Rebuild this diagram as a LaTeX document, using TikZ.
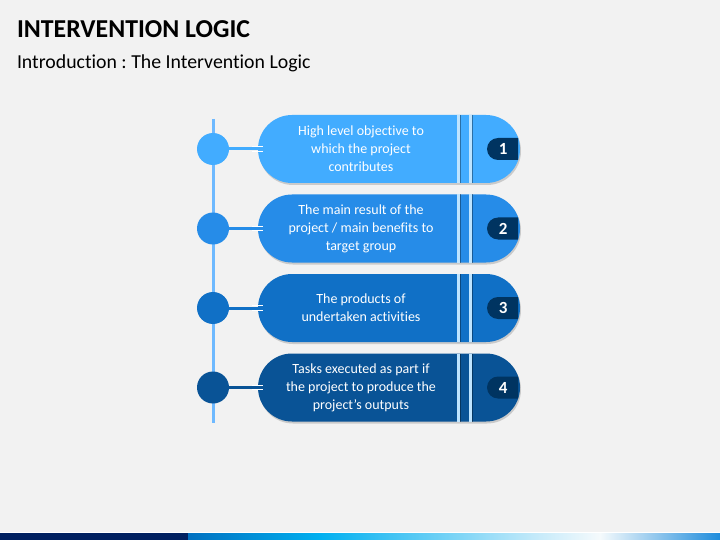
\documentclass[tikz,border=0pt]{standalone}
\usepackage{fontspec}
\setmainfont{Carlito}[Ligatures=NoCommon]
\usetikzlibrary{shapes.misc,shadows,calc}
\frenchspacing

\definecolor{cf2f2f2}{RGB}{242,242,242}
\definecolor{c42acff}{RGB}{66,172,255}
\definecolor{c268ce8}{RGB}{38,140,232}
\definecolor{c1070c6}{RGB}{16,112,198}
\definecolor{c095396}{RGB}{9,83,150}
\definecolor{c003461}{RGB}{0,52,97}
\definecolor{cbee4ff}{RGB}{190,228,255}
\definecolor{c6eb9ff}{RGB}{110,185,255}
\definecolor{c002060}{RGB}{0,32,96}
\definecolor{c0070c0}{RGB}{0,112,192}
\definecolor{c00b0f0}{RGB}{0,176,240}
\definecolor{cc8ebfa}{RGB}{200,235,250}
\definecolor{cf5fafc}{RGB}{245,250,252}
\definecolor{c1e8cdc}{RGB}{30,140,220}

\tikzset{
  pill/.style={rounded rectangle, minimum width=262pt, minimum height=68pt,
    drop shadow={opacity=0.35, shadow xshift=1pt, shadow yshift=-2pt}},
  pilltext/.style={text=white, align=center,
    font=\fontsize{14}{18}\selectfont},
  dot/.style={circle, minimum size=32pt},
  badge/.style={rounded rectangle, rounded rectangle right arc=none,
    minimum width=31pt, minimum height=22pt, fill=c003461, text=white,
    font=\fontsize{17}{17}\selectfont\bfseries},
  stripe/.style={draw=cbee4ff, line width=2.6pt}
}

\begin{document}
\begin{tikzpicture}[y=1pt, x=1pt, yscale=-1, inner sep=0pt, outer sep=0pt]
  \path[fill=cf2f2f2] (0,0) rectangle (720,540);
  \useasboundingbox (0,0) rectangle (720,540);

  % heading
  \path (17,38) node[anchor=base west, font=\fontsize{25.8}{25.8}\selectfont\bfseries]
    (title) {INTERVENTION LOGIC};
  \path (17,69) node[anchor=base west, font=\fontsize{19.8}{19.8}\selectfont]
    (subtitle) {Introduction : The Intervention Logic};

  % spine
  \coordinate (spinetop) at (213,119);
  \coordinate (spinebot) at (213,423);
  \path[draw=c6eb9ff, line width=3pt] (spinetop) -- (spinebot);

  \foreach \i/\col/\txt in {
      1/c42acff/{High level objective to\\which the project\\contributes},
      2/c268ce8/{The main result of the\\project / main benefits to\\target group},
      3/c1070c6/{The products of\\undertaken activities},
      4/c095396/{Tasks executed as part if\\the project to produce the\\project’s outputs}}{
    \pgfmathsetmacro{\yc}{149+79.5*(\i-1)}
    \path (389,\yc) node[pill, fill=\col] (pill\i) {};
    \begin{scope}
      \clip (258,\yc-34) rectangle (520,\yc+34);
      \path[draw=black, opacity=0.35, line width=1.6pt] (460.5,\yc-34) -- (460.5,\yc+34);
      \path[draw=black, opacity=0.35, line width=1.6pt] (472.5,\yc-34) -- (472.5,\yc+34);
      \path[stripe] (458.5,\yc-34) -- (458.5,\yc+34);
      \path[stripe] (470.5,\yc-34) -- (470.5,\yc+34);
    \end{scope}
    \path (361,\yc) node[pilltext] (text\i) {\txt};
    \path (518,\yc) node[badge, anchor=east] (badge\i) {\i};
    \path (213,\yc) node[dot, fill=\col] (dot\i) {};
    \path[draw=\col, line width=3pt] (dot\i) -- (pill\i);
    \path[draw=white, line width=0.7pt] (252,\yc-2.2) -- (263,\yc-2.2)
      (252,\yc+2.2) -- (263,\yc+2.2);
  }

  % footer band
  \path[fill=white] (0,531.5) rectangle (720,533);
  \path[fill=c002060] (0,533) rectangle (188,540);
  \path[left color=c0070c0, right color=c00b0f0] (188,533) rectangle (320,540);
  \path[left color=c00b0f0, right color=cc8ebfa] (320,533) rectangle (540,540);
  \path[left color=cc8ebfa, right color=cf5fafc] (540,533) rectangle (600,540);
  \path[left color=cf5fafc, right color=c1e8cdc] (600,533) rectangle (720,540);
\end{tikzpicture}
\end{document}
